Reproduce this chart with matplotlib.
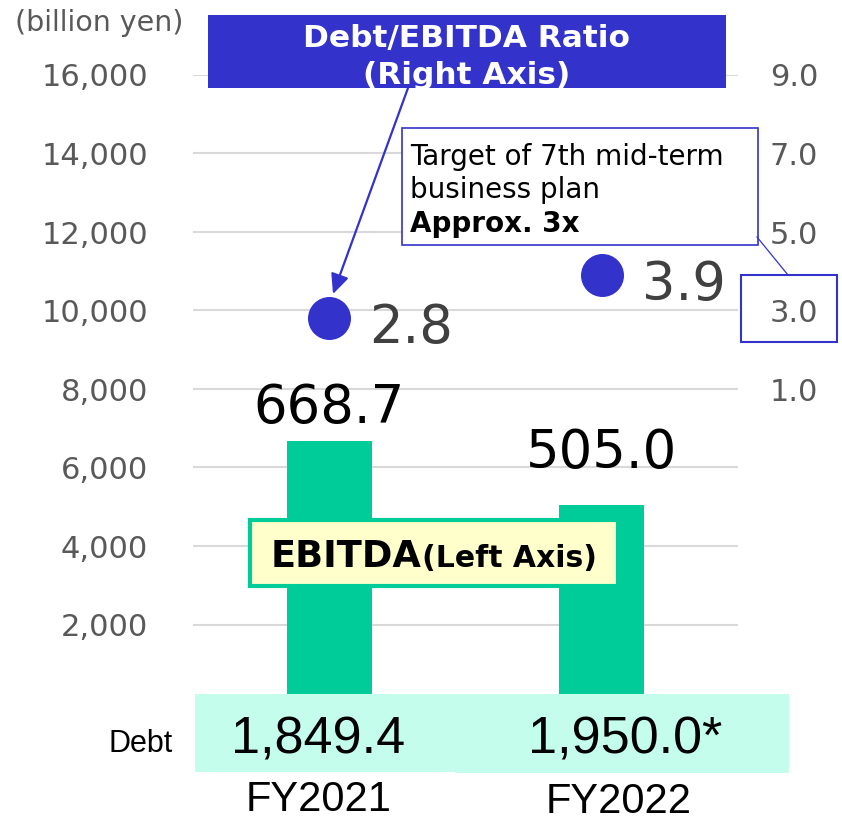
import matplotlib
matplotlib.use('Agg')
import matplotlib.pyplot as plt
from matplotlib.patches import Rectangle, FancyArrowPatch
from matplotlib.lines import Line2D
from matplotlib.ticker import FuncFormatter

# ---------------- data ----------------
categories = ['FY2021', 'FY2022']
ebitda_plot = [6687, 5050]          # bar heights on the left axis
ebitda_labels = ['668.7', '505.0']
ratio = [2.8, 3.9]                  # Debt/EBITDA ratio (right axis)
ratio_labels = ['2.8', '3.9']
debt_labels = ['1,849.4', '1,950.0*']
left_ticks = [2000, 4000, 6000, 8000, 10000, 12000, 14000, 16000]
right_ticks = [1.0, 3.0, 5.0, 7.0, 9.0]

# ---------------- layout helpers ----------------
W, H = 842, 822
fig = plt.figure(figsize=(W / 100, H / 100), dpi=100)
fig.patch.set_facecolor('white')


def fx(x):
    return x / W


def fy(y):
    return 1 - y / H


def pt(px):
    return px * 72 / 100


BLUE = '#3333CC'
GREEN = '#00CC99'
GRAY = '#595959'

ax = fig.add_axes([fx(193), fy(703), fx(738) - fx(193), fy(75) - fy(703)])
xs = list(range(len(categories)))
ax.bar(xs, ebitda_plot, width=0.3125, color=GREEN, zorder=2)
ax.set_xlim(-0.5, 1.5)
ax.set_ylim(0, 16000)
ax.set_yticks(left_ticks)
ax.yaxis.set_major_formatter(FuncFormatter(lambda v, p: f'{v:,.0f}'))
ax.tick_params(axis='y', length=0, pad=pt(45), labelsize=22, labelcolor=GRAY)
ax.set_xticks([])
ax.set_axisbelow(True)
ax.grid(axis='y', color='#D9D9D9', lw=1.5)
for s in ax.spines.values():
    s.set_visible(False)

ax2 = ax.twinx()
ax2.set_ylim(-7, 9)
ax2.set_yticks(right_ticks)
ax2.yaxis.set_major_formatter(FuncFormatter(lambda v, p: f'{v:.1f}'))
ax2.tick_params(axis='y', length=0, pad=pt(32), labelsize=22, labelcolor=GRAY)
for s in ax2.spines.values():
    s.set_visible(False)
ax2.plot(xs, ratio, linestyle='none', marker='o', ms=pt(43), color=BLUE,
         markeredgewidth=0, zorder=3)

# bar value labels
bar_offsets_px = [18, 37]
for xi, h, lbl, off in zip(xs, ebitda_plot, ebitda_labels, bar_offsets_px):
    ax.annotate(lbl, (xi, h), xytext=(0, pt(off)), textcoords='offset points',
                ha='center', va='baseline', fontsize=38, color='black')

# ratio labels
for xi, r, lbl in zip(xs, ratio, ratio_labels):
    ax2.annotate(lbl, (xi, r), xytext=(pt(40), -pt(25)), textcoords='offset points',
                 ha='left', va='baseline', fontsize=38, color='#404040')


def rect(x0, y0, x1, y1, **kw):
    r = Rectangle((fx(x0), fy(y1)), fx(x1) - fx(x0), (y1 - y0) / H,
                  transform=fig.transFigure, **kw)
    fig.add_artist(r)
    return r


def ftext(x, y, s, **kw):
    kw.setdefault('va', 'baseline')
    return fig.text(fx(x), fy(y), s, zorder=10, **kw)


# unit label
ftext(15, 31, '(billion yen)', fontsize=20.5, color=GRAY, ha='left')

# Debt/EBITDA title box
rect(208, 15, 726, 88, facecolor=BLUE, edgecolor='none', zorder=5)
ftext(467, 47, 'Debt/EBITDA Ratio', fontsize=22.5, fontweight='bold', color='white', ha='center')
ftext(467, 84, '(Right Axis)', fontsize=22.5, fontweight='bold', color='white', ha='center')

# arrow to first ratio point
arr = FancyArrowPatch(posA=(fx(408), fy(88)), posB=(fx(333), fy(294)),
                      transform=fig.transFigure, arrowstyle='-|>,head_length=1.2,head_width=0.55',
                      mutation_scale=10, color=BLUE, lw=1.6, shrinkA=0, shrinkB=0, zorder=6)
fig.add_artist(arr)

# target box
rect(402, 128, 758, 245, facecolor='white', edgecolor=BLUE, lw=1.2, zorder=5)
ftext(410, 165, 'Target of 7th mid-term', fontsize=20, color='black', ha='left')
ftext(410, 198, 'business plan', fontsize=20, color='black', ha='left')
ftext(410, 232, 'Approx. 3x', fontsize=20, fontweight='bold', color='black', ha='left')
fig.add_artist(Line2D([fx(757), fx(788)], [fy(237), fy(275)], transform=fig.transFigure,
                      color=BLUE, lw=0.9, zorder=5))
rect(741, 275, 837, 342, facecolor='none', edgecolor=BLUE, lw=1.5, zorder=5)

# EBITDA legend box
rect(250, 520, 618, 586, facecolor='#FFFFCC', edgecolor=GREEN, lw=3, zorder=5)
ftext(422, 567, 'EBITDA', fontsize=26.5, fontweight='bold', color='black', ha='right')
ftext(422, 567, '(Left Axis)', fontsize=21.5, fontweight='bold', color='black', ha='left')

# Debt row
rect(195, 694, 455, 772, facecolor='#C4FDEC', edgecolor='none', zorder=5)
rect(455, 694, 789, 773, facecolor='#C4FDEC', edgecolor='none', zorder=5)
ftext(108, 752, 'Debt', fontsize=22, family='Liberation Sans', color='black', ha='left')
debt_x = [318, 625]
for xpx, lbl in zip(debt_x, debt_labels):
    ftext(xpx, 753, lbl, fontsize=37.5, family='Liberation Sans', color='black', ha='center')

# category labels
cat_pos = [(319, 811), (619, 813)]
for (xpx, ypx), c in zip(cat_pos, categories):
    ftext(xpx, ypx, c, fontsize=30, family='Liberation Sans', color='black', ha='center')

fig.savefig('out.png', dpi=100, facecolor='white')
